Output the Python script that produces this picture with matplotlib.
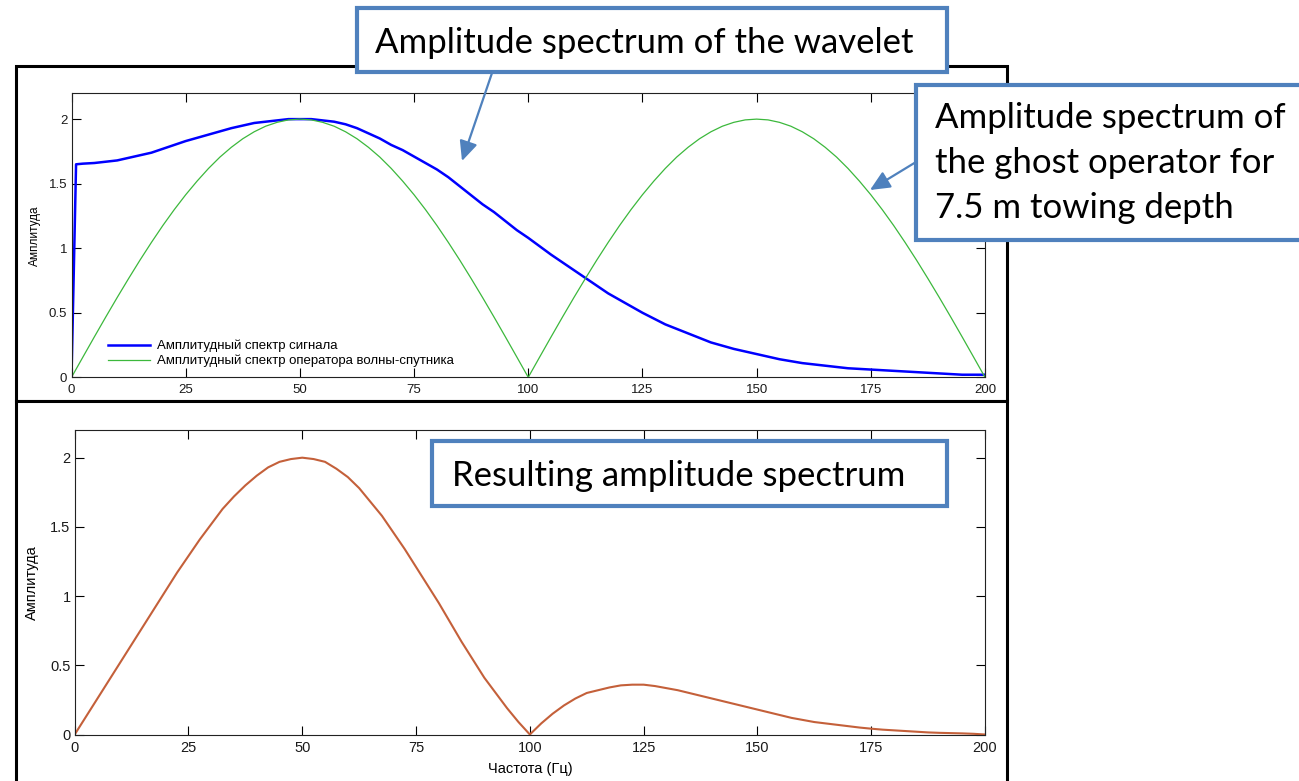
import matplotlib
matplotlib.use("Agg")
import matplotlib.pyplot as plt
from matplotlib.patches import Rectangle, FancyArrowPatch

plt.rcParams['font.family'] = ['Liberation Sans', 'DejaVu Sans']

# частоты, Гц (шаг 2.5)
freq = [0, 2.5, 5, 7.5, 10, 12.5, 15, 17.5, 20, 22.5, 25, 27.5, 30, 32.5, 35, 37.5,
        40, 42.5, 45, 47.5, 50, 52.5, 55, 57.5, 60, 62.5, 65, 67.5, 70, 72.5, 75, 77.5,
        80, 82.5, 85, 87.5, 90, 92.5, 95, 97.5, 100, 102.5, 105, 107.5, 110, 112.5,
        115, 117.5, 120, 122.5, 125, 127.5, 130, 132.5, 135, 137.5, 140, 142.5, 145,
        147.5, 150, 152.5, 155, 157.5, 160, 162.5, 165, 167.5, 170, 172.5, 175, 177.5,
        180, 182.5, 185, 187.5, 190, 192.5, 195, 197.5, 200]
# амплитудный спектр сигнала (с резким подъёмом у нуля)
sig_freq = [0, 0.5, 1] + freq[1:]
sig_amp = [0, 0.82, 1.65,
           1.655, 1.66, 1.67, 1.68, 1.70, 1.72, 1.74, 1.77, 1.80, 1.83, 1.855, 1.88,
           1.905, 1.93, 1.95, 1.97, 1.98, 1.99, 2.00, 2.00, 2.00, 1.99, 1.98, 1.96,
           1.93, 1.89, 1.85, 1.80, 1.76, 1.71, 1.66, 1.61, 1.55, 1.48, 1.41, 1.34,
           1.28, 1.21, 1.14, 1.08, 1.015, 0.95, 0.89, 0.83, 0.77, 0.71, 0.65, 0.60,
           0.55, 0.50, 0.455, 0.41, 0.375, 0.34, 0.305, 0.27, 0.245, 0.22, 0.20, 0.18,
           0.16, 0.14, 0.125, 0.11, 0.10, 0.09, 0.08, 0.07, 0.065, 0.06, 0.055, 0.05,
           0.045, 0.04, 0.035, 0.03, 0.025, 0.02, 0.02, 0.02]
# амплитудный спектр оператора волны-спутника
ghost_amp = [0.000, 0.157, 0.313, 0.467, 0.618, 0.765, 0.908, 1.045, 1.176, 1.299,
             1.414, 1.520, 1.618, 1.706, 1.782, 1.848, 1.902, 1.945, 1.975, 1.994,
             2.000, 1.994, 1.975, 1.945, 1.902, 1.848, 1.782, 1.706, 1.618, 1.520,
             1.414, 1.299, 1.176, 1.045, 0.908, 0.765, 0.618, 0.467, 0.313, 0.157,
             0.000, 0.157, 0.313, 0.467, 0.618, 0.765, 0.908, 1.045, 1.176, 1.299,
             1.414, 1.520, 1.618, 1.706, 1.782, 1.848, 1.902, 1.945, 1.975, 1.994,
             2.000, 1.994, 1.975, 1.945, 1.902, 1.848, 1.782, 1.706, 1.618, 1.520,
             1.414, 1.299, 1.176, 1.045, 0.908, 0.765, 0.618, 0.467, 0.313, 0.157,
             0.000]
# результирующий спектр
res_amp = [0.00, 0.13, 0.26, 0.39, 0.52, 0.65, 0.78, 0.91, 1.04, 1.17, 1.29, 1.41,
           1.52, 1.63, 1.72, 1.80, 1.87, 1.93, 1.97, 1.99, 2.00, 1.99, 1.97, 1.92,
           1.86, 1.78, 1.68, 1.58, 1.46, 1.34, 1.21, 1.08, 0.95, 0.81, 0.67, 0.54,
           0.41, 0.30, 0.19, 0.09, 0.00, 0.08, 0.15, 0.21, 0.26, 0.30, 0.32, 0.34,
           0.355, 0.36, 0.36, 0.35, 0.335, 0.32, 0.30, 0.28, 0.26, 0.24, 0.22, 0.20,
           0.18, 0.16, 0.14, 0.12, 0.105, 0.09, 0.08, 0.07, 0.06, 0.05, 0.042, 0.035,
           0.03, 0.025, 0.02, 0.015, 0.012, 0.01, 0.008, 0.005, 0.00]

xticks = [0, 25, 50, 75, 100, 125, 150, 175, 200]
yticks = [0, 0.5, 1, 1.5, 2]
yticklabels = ['0', '0.5', '1', '1.5', '2']
legend_labels = ['Амплитудный спектр сигнала',
                 'Амплитудный спектр оператора волны-спутника']

W, H = 1299, 781
BOXBLUE = '#4F81BD'


def fx(x):
    return x / W


def fy(y):
    return 1 - y / H


def frame(fig, x0, y0, x1, y1, z, lw=2.2, ec='black'):
    r = Rectangle((fx(x0), fy(y1)), (x1 - x0) / W, (y1 - y0) / H,
                  transform=fig.transFigure, facecolor='white', edgecolor=ec,
                  linewidth=lw, zorder=z)
    fig.patches.append(r)
    return r


def style_axes(ax, fs, pad):
    ax.set_xlim(0, 200)
    ax.set_ylim(0, 2.2)
    ax.set_xticks(xticks)
    ax.set_xticklabels([str(t) for t in xticks])
    ax.set_yticks(yticks)
    ax.set_yticklabels(yticklabels)
    ax.tick_params(direction='in', top=True, right=True, length=6.5, width=0.8,
                   labelsize=fs, labelcolor='#1a1a1a', pad=3)
    ax.tick_params(axis='x', pad=pad)
    for s in ax.spines.values():
        s.set_linewidth(0.8)
        s.set_color('#222222')


fig = plt.figure(figsize=(W / 100, H / 100), dpi=100)

# верхняя панель
frame(fig, 16, 66, 1007.5, 401, 0.1)
ax1 = fig.add_axes([fx(71.5), fy(377.3), (985 - 71.5) / W, (377.3 - 93.3) / H])
ax1.set_zorder(0.2)
ax1.plot(sig_freq, sig_amp, color='#0000ff', lw=1.8, label=legend_labels[0])
ax1.plot(freq, ghost_amp, color='#3cb83c', lw=0.9, label=legend_labels[1])
style_axes(ax1, 9.5, 5)
ax1.set_ylabel('Амплитуда', fontsize=8.5, labelpad=6)
ax1.set_xlabel('Частота (Гц)', fontsize=9.5, labelpad=3)
ax1.legend(loc='lower left', bbox_to_anchor=(0.040, 0.035), frameon=False,
           fontsize=9.5, handlelength=3.2, handletextpad=0.5, labelspacing=0.2,
           borderpad=0, borderaxespad=0)

# нижняя панель
frame(fig, 16, 401, 1006.5, 800, 0.3)
ax2 = fig.add_axes([fx(74.7), fy(734.5), (985 - 74.7) / W, (734.5 - 430) / H])
ax2.set_zorder(0.4)
ax2.plot(freq, res_amp, color='#c4603a', lw=1.5)
style_axes(ax2, 10.5, 5)
ax2.set_ylabel('Амплитуда', fontsize=10.5, labelpad=8)
ax2.set_xlabel('Частота (Гц)', fontsize=10.5, labelpad=5)

# подписи в рамках
tfont = dict(family=['Lato', 'DejaVu Sans'], fontsize=25, color='black', zorder=7)

frame(fig, 357, 8, 947, 72, 5, lw=3, ec=BOXBLUE)
fig.text(fx(375), fy(53), 'Amplitude spectrum of the wavelet', ha='left', va='baseline', **tfont)

frame(fig, 916, 85, 1310, 240, 5, lw=3, ec=BOXBLUE)
for line, base in [('Amplitude spectrum of', 128), ('the ghost operator for', 173),
                   ('7.5 m towing depth', 218)]:
    fig.text(fx(935), fy(base), line, ha='left', va='baseline', **tfont)

frame(fig, 432, 441, 947, 506, 5, lw=3, ec=BOXBLUE)
fig.text(fx(452), fy(486), 'Resulting amplitude spectrum', ha='left', va='baseline', **tfont)

for (xa, ya), (xb, yb) in [((492, 73), (462, 161)), ((916, 162), (870, 190))]:
    arr = FancyArrowPatch((fx(xa), fy(ya)), (fx(xb), fy(yb)), transform=fig.transFigure,
                          arrowstyle='-|>,head_length=1.2,head_width=0.55',
                          mutation_scale=10, color=BOXBLUE, lw=1.6,
                          shrinkA=0, shrinkB=0, zorder=6)
    fig.patches.append(arr)

fig.savefig('out.png', dpi=100)
